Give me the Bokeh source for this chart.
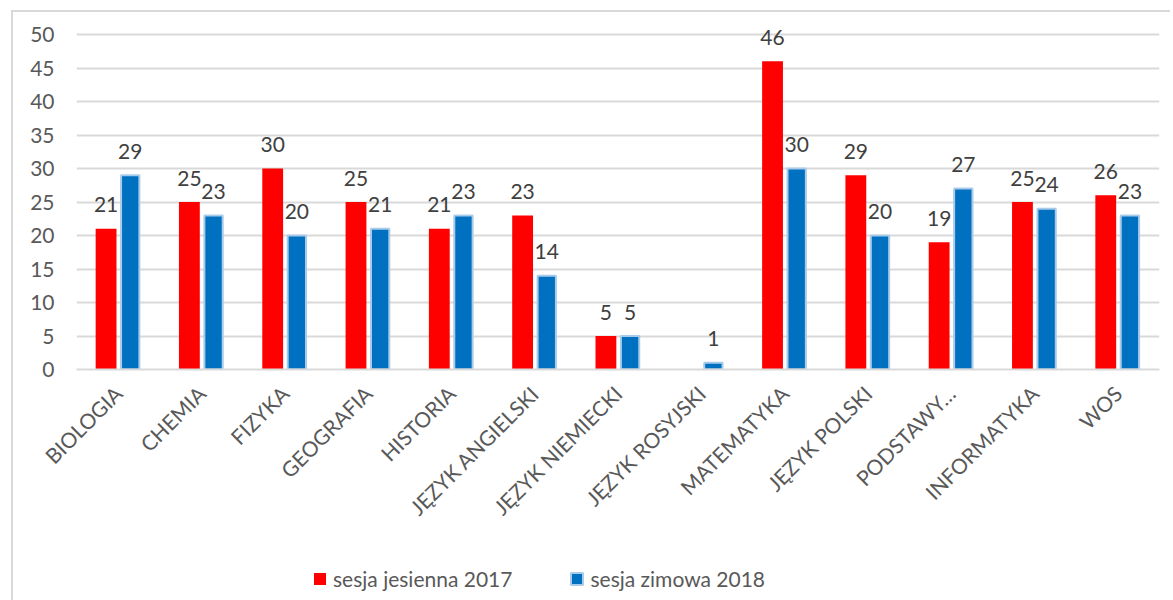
import math
from bokeh.plotting import figure
from bokeh.layouts import column
from bokeh.models import ColumnDataSource, FactorRange, Range1d, Legend, LegendItem, FixedTicker
from bokeh.transform import dodge
from bokeh.core.properties import value
from bokeh.embed import file_html
from bokeh.resources import INLINE

categories = ["BIOLOGIA", "CHEMIA", "FIZYKA", "GEOGRAFIA", "HISTORIA", "JĘZYK ANGIELSKI",
              "JĘZYK NIEMIECKI", "JĘZYK ROSYJSKI", "MATEMATYKA", "JĘZYK POLSKI",
              "PODSTAWY…", "INFORMATYKA", "WOS"]
jesien_2017 = [21, 25, 30, 25, 21, 23, 5, None, 46, 29, 19, 25, 26]
zima_2018 = [29, 23, 20, 21, 23, 14, 5, 1, 30, 20, 27, 24, 23]
series_names = ["sesja jesienna 2017", "sesja zimowa 2018"]
y_ticks = [0, 5, 10, 15, 20, 25, 30, 35, 40, 45, 50]

FONT = "Lato"
RED = "#FF0000"
BLUE = "#0070C0"
BLUE_EDGE = "#a9cbea"
NAN = float("nan")

src = ColumnDataSource(dict(
    cat=categories,
    a=[NAN if v is None else v for v in jesien_2017],
    b=zima_2018,
    a_lbl=["" if v is None else str(v) for v in jesien_2017],
    b_lbl=[str(v) for v in zima_2018],
))

W = 1157
P_H = 532
Q_H = 56

p = figure(width=W, height=P_H, x_range=FactorRange(*categories), y_range=Range1d(0, 51.2),
           output_backend="svg", toolbar_location=None,
           min_border_left=63, min_border_right=11, min_border_top=14, min_border_bottom=P_H - 357)
p.outline_line_color = None

r1 = p.vbar(x=dodge("cat", -0.145, range=p.x_range), top="a", width=0.25, source=src,
            fill_color=RED, line_color=None)
r2 = p.vbar(x=dodge("cat", 0.145, range=p.x_range), top="b", width=0.22, source=src,
            fill_color=BLUE, line_color=BLUE_EDGE, line_width=2)

p.text(x=dodge("cat", -0.145, range=p.x_range), y="a", text="a_lbl", source=src,
       text_align="center", text_baseline="middle", y_offset=-24,
       text_font=value(FONT), text_font_size="21px", text_color="#404040")
p.text(x=dodge("cat", 0.145, range=p.x_range), y="b", text="b_lbl", source=src,
       text_align="center", text_baseline="middle", y_offset=-24,
       text_font=value(FONT), text_font_size="21px", text_color="#404040")

p.yaxis.ticker = FixedTicker(ticks=y_ticks)
p.yaxis.axis_line_color = None
p.yaxis.major_tick_line_color = None
p.yaxis.minor_tick_line_color = None
p.yaxis.major_label_standoff = 16
p.yaxis.major_label_text_font = FONT
p.yaxis.major_label_text_font_size = "21px"
p.yaxis.major_label_text_color = "#595959"

p.xaxis.axis_line_color = "#d9d9d9"
p.xaxis.axis_line_width = 2
p.xaxis.major_tick_line_color = None
p.xaxis.minor_tick_line_color = None
p.xaxis.major_label_orientation = math.pi / 4
p.xaxis.major_label_standoff = 14
p.xaxis.major_label_text_font = FONT
p.xaxis.major_label_text_font_size = "21px"
p.xaxis.major_label_text_color = "#595959"

p.xgrid.grid_line_color = None
p.ygrid.grid_line_color = "#d9d9d9"
p.ygrid.grid_line_width = 2

# legend strip (its frame is aligned with the main plot's frame)
q = figure(width=W, height=Q_H, x_range=Range1d(0, 1), y_range=Range1d(0, 1),
           output_backend="svg", toolbar_location=None,
           min_border_left=0, min_border_right=0, min_border_top=0, min_border_bottom=0)
q.axis.visible = False
q.grid.visible = False
q.outline_line_color = None
# legend key renderers only (a single undrawable NaN bar each)
l1 = q.vbar(x=[NAN], top=[NAN], width=0.1, fill_color=RED, line_color=None)
l2 = q.vbar(x=[NAN], top=[NAN], width=0.1, fill_color=BLUE, line_color=BLUE_EDGE, line_width=2)

legend = Legend(items=[LegendItem(label=series_names[0], renderers=[l1]),
                       LegendItem(label=series_names[1], renderers=[l2])],
                location=(236, 9), orientation="horizontal",
                glyph_width=15, glyph_height=15, label_standoff=6, spacing=57,
                padding=0, margin=0, border_line_color=None, background_fill_alpha=0,
                label_text_font=FONT, label_text_font_size="21px", label_text_color="#595959")
q.add_layout(legend, "center")

layout = column(p, q, spacing=0)
layout.margin = (10, 0, 0, 11)
layout.styles = {"border-left": "2px solid #d9d9d9", "border-top": "2px solid #d9d9d9"}

open("out.html", "w").write(file_html(layout, INLINE))
